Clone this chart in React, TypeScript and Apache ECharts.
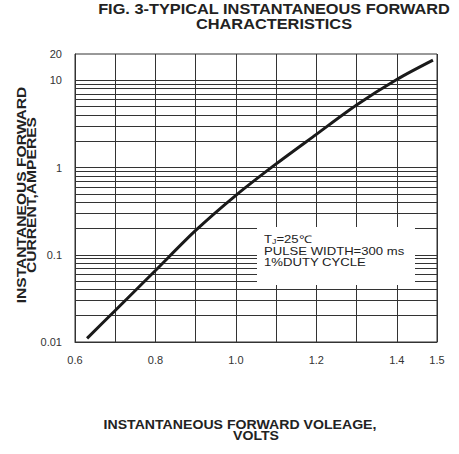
import React, { useEffect, useRef } from "react";
import * as echarts from "echarts";

// Forward voltage (V) and forward current (A)
const VOLTAGE = [0.63, 0.7, 0.8, 0.9, 1.0, 1.1, 1.2, 1.3, 1.4, 1.49];
const CURRENT = [0.011, 0.023, 0.066, 0.19, 0.48, 1.1, 2.4, 5.2, 10.2, 17];

const X_LABELS = [0.6, 0.8, 1.0, 1.2, 1.4, 1.5];
const Y_LABELS = [0.01, 0.1, 1, 10, 20];
const Y_GRID = [
  0.02, 0.03, 0.04, 0.05, 0.06, 0.07, 0.08, 0.09, 0.1,
  0.2, 0.3, 0.4, 0.5, 0.6, 0.7, 0.8, 0.9, 1,
  2, 3, 4, 5, 6, 7, 8, 9, 10,
];

const TITLE = "FIG. 3-TYPICAL INSTANTANEOUS FORWARD\nCHARACTERISTICS";
const Y_NAME = "INSTANTANEOUS FORWARD\nCURRENT,AMPERES";
const X_NAME_1 = "INSTANTANEOUS FORWARD VOLEAGE,";
const X_NAME_2 = "VOLTS";
const NOTE = "T{s|J}=25℃\nPULSE WIDTH=300 ms\n1%DUTY CYCLE";

const FONT = '"Liberation Sans", Arial, sans-serif';

export default function App() {
  const ref = useRef<HTMLDivElement>(null);

  useEffect(() => {
    if (!ref.current) return;
    const chart = echarts.init(ref.current, null, { renderer: "svg" });
    const near = (a: number, b: number) => Math.abs(a - b) < 1e-6 * Math.max(1, Math.abs(b));
    chart.setOption({
      animation: false,
      backgroundColor: "#fff",
      grid: {
        left: 75,
        top: 54,
        right: 22,
        bottom: 112,
        show: true,
        borderColor: "#333",
        borderWidth: 1,
      },
      xAxis: {
        type: "value",
        min: 0.6,
        max: 1.5,
        interval: 0.1,
        axisLine: { show: true, lineStyle: { color: "#333", width: 1 } },
        axisTick: { show: false },
        splitLine: { show: true, lineStyle: { color: "#333", width: 1 } },
        axisLabel: {
          margin: 12,
          color: "#333",
          fontSize: 11,
          fontFamily: FONT,
          formatter: (v: number) => {
            const hit = X_LABELS.find((l) => near(v, l));
            return hit === undefined ? "" : hit.toFixed(1);
          },
        },
      },
      yAxis: {
        type: "log",
        logBase: 10,
        min: 0.01,
        max: 20,
        axisLine: { show: true, lineStyle: { color: "#333", width: 1 } },
        axisTick: { show: false },
        splitLine: { show: false },
        axisLabel: {
          margin: 13,
          align: "right",
          color: "#333",
          fontSize: 11,
          fontFamily: FONT,
          formatter: (v: number) => {
            const hit = Y_LABELS.find((l) => near(v, l));
            return hit === undefined ? "" : String(hit);
          },
        },
      },
      series: [
        {
          type: "line",
          data: [],
          z: 1,
          silent: true,
          markLine: {
            silent: true,
            symbol: ["none", "none"],
            label: { show: false },
            lineStyle: { color: "#333", width: 1, type: "solid" },
            data: Y_GRID.map((v) => ({ yAxis: v })),
          },
        },
        {
          type: "line",
          z: 5,
          smooth: 0.3,
          showSymbol: false,
          lineStyle: { color: "#1a1a1a", width: 3 },
          data: VOLTAGE.map((v, i) => [v, CURRENT[i]]),
        },
      ],
      graphic: [
        {
          type: "rect",
          z: 10,
          shape: { x: 257, y: 227, width: 158, height: 58 },
          style: { fill: "#fff" },
        },
        {
          type: "text",
          z: 11,
          x: 264,
          y: 234,
          scaleX: 1.25,
          style: {
            text: NOTE,
            font: `10.5px ${FONT}`,
            fill: "#222",
            align: "left",
            verticalAlign: "top",
            lineHeight: 11.5,
            rich: {
              s: { fontSize: 7, fill: "#222", fontFamily: FONT, verticalAlign: "bottom", lineHeight: 11.5 },
            },
          },
        },
        {
          type: "text",
          z: 11,
          x: 274,
          y: 16.5,
          scaleX: 1.09,
          style: {
            text: TITLE,
            font: `bold 15px ${FONT}`,
            fill: "#222",
            align: "center",
            verticalAlign: "middle",
            lineHeight: 15,
          },
        },
        {
          type: "text",
          z: 11,
          x: 27,
          y: 195,
          rotation: Math.PI / 2,
          scaleX: 1.3,
          style: {
            text: Y_NAME,
            font: `bold 12px ${FONT}`,
            fill: "#222",
            align: "center",
            verticalAlign: "middle",
            lineHeight: 10,
          },
        },
        {
          type: "text",
          z: 11,
          x: 240,
          y: 425,
          scaleX: 1.13,
          style: {
            text: X_NAME_1,
            font: `bold 12.5px ${FONT}`,
            fill: "#222",
            align: "center",
            verticalAlign: "middle",
          },
        },
        {
          type: "text",
          z: 11,
          x: 256,
          y: 436,
          scaleX: 1.13,
          style: {
            text: X_NAME_2,
            font: `bold 12.5px ${FONT}`,
            fill: "#222",
            align: "center",
            verticalAlign: "middle",
          },
        },
      ],
    });
    return () => chart.dispose();
  }, []);

  return (
    <div
      ref={ref}
      style={{ position: "absolute", left: 0, top: 0, width: 459, height: 454 }}
    />
  );
}
